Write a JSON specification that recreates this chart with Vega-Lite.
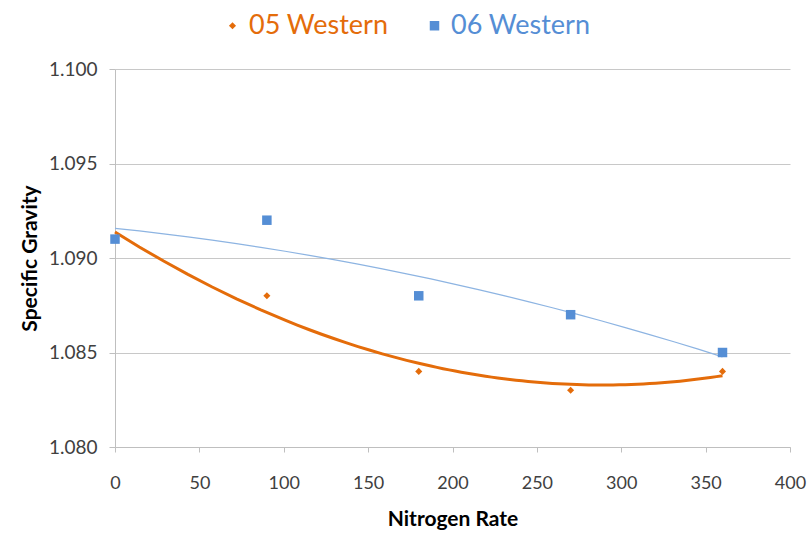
{
  "$schema": "https://vega.github.io/schema/vega-lite/v6.json",
  "autosize": "none",
  "width": 675,
  "height": 378,
  "padding": {"left": 115, "top": 69, "right": 20, "bottom": 88},
  "background": "white",
  "config": {
    "font": "Lato",
    "view": {"stroke": null},
    "axis": {"labelFont": "Lato", "titleFont": "Lato", "labelColor": "#404040", "titleColor": "#000000", "domainColor": "#bfbfbf", "tickColor": "#bfbfbf", "gridColor": "#c8c8c8"}
  },
  "data": {
    "values": [
      {"rate": 0, "sg": 1.091, "series": "05 Western"},
      {"rate": 90, "sg": 1.088, "series": "05 Western"},
      {"rate": 180, "sg": 1.084, "series": "05 Western"},
      {"rate": 270, "sg": 1.083, "series": "05 Western"},
      {"rate": 360, "sg": 1.084, "series": "05 Western"},
      {"rate": 0, "sg": 1.091, "series": "06 Western"},
      {"rate": 90, "sg": 1.092, "series": "06 Western"},
      {"rate": 180, "sg": 1.088, "series": "06 Western"},
      {"rate": 270, "sg": 1.087, "series": "06 Western"},
      {"rate": 360, "sg": 1.085, "series": "06 Western"}
    ]
  },
  "encoding": {
    "x": {
      "field": "rate", "type": "quantitative",
      "scale": {"domain": [0, 400], "nice": false},
      "axis": {"title": "Nitrogen Rate", "values": [0,50,100,150,200,250,300,350,400], "grid": false, "labelFlush": false, "labelFontSize": 18, "titleFontSize": 21, "titleFontWeight": "bold", "tickSize": 5, "labelPadding": 22, "titlePadding": 16, "domainWidth": 1}
    },
    "y": {
      "field": "sg", "type": "quantitative",
      "scale": {"domain": [1.08, 1.1], "nice": false, "zero": false},
      "axis": {"title": "Specific Gravity", "values": [1.08, 1.085, 1.09, 1.095, 1.1], "format": ".3f", "grid": true, "labelFlush": false, "labelFontSize": 19, "titleFontSize": 21, "titleFontWeight": "bold", "tickSize": 6, "labelPadding": 12, "titlePadding": 8}
    }
  },
  "layer": [
    {
      "transform": [
        {"filter": "datum.series === '06 Western'"},
        {"regression": "sg", "on": "rate", "method": "poly", "order": 2, "extent": [0, 360]}
      ],
      "mark": {"type": "line", "color": "#8db4e2", "strokeWidth": 1.2}
    },
    {
      "transform": [
        {"filter": "datum.series === '05 Western'"},
        {"regression": "sg", "on": "rate", "method": "poly", "order": 2, "extent": [0, 360]}
      ],
      "mark": {"type": "line", "color": "#e46c0a", "strokeWidth": 3}
    },
    {
      "mark": {"type": "point", "filled": true, "opacity": 1},
      "encoding": {
        "color": {
          "field": "series", "type": "nominal",
          "scale": {"domain": ["05 Western", "06 Western"], "range": ["#e46c0a", "#558ed5"]},
          "legend": {
            "title": null, "orient": "none", "direction": "horizontal",
            "legendX": 104, "legendY": -57,
            "labelFontSize": 27, "labelFont": "Lato", "symbolSize": 80, "columnPadding": 32, "labelOffset": 3,
            "labelColor": {"expr": "datum.value === '05 Western' ? '#e46c0a' : '#558ed5'"}
          }
        },
        "shape": {
          "field": "series", "type": "nominal",
          "scale": {"domain": ["05 Western", "06 Western"], "range": ["diamond", "square"]}
        },
        "size": {
          "field": "series", "type": "nominal",
          "scale": {"domain": ["05 Western", "06 Western"], "range": [50, 90]}
        }
      }
    }
  ]
}
